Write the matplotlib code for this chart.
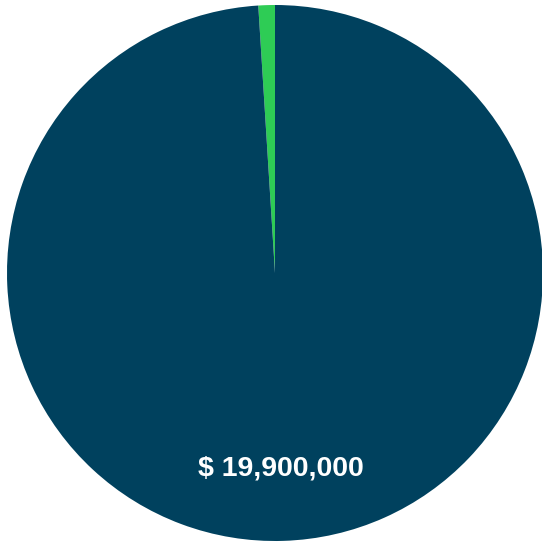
import matplotlib
matplotlib.use("Agg")
import matplotlib.pyplot as plt

labels = ["Other", "Main"]
values = [200000, 19900000]
colors = ["#2ECC55", "#00415E"]
display = ["", "$ 19,900,000"]

fig = plt.figure(figsize=(5.42, 5.43), dpi=100)
ax = fig.add_axes([7/542, 2/543, 536/542, 536/543])
wedges, texts = ax.pie(values, colors=colors, startangle=90, counterclock=True,
                       labels=display, labeldistance=0.73,
                       wedgeprops=dict(linewidth=0))
for t in texts:
    t.set_color("white")
    t.set_fontfamily("Liberation Sans")
    t.set_fontweight("bold")
    t.set_fontsize(20.5)
    t.set_ha("center")
    t.set_va("center")
ax.set_xlim(-1, 1)
ax.set_ylim(-1, 1)
ax.axis("off")
fig.savefig("out.png", dpi=100)
